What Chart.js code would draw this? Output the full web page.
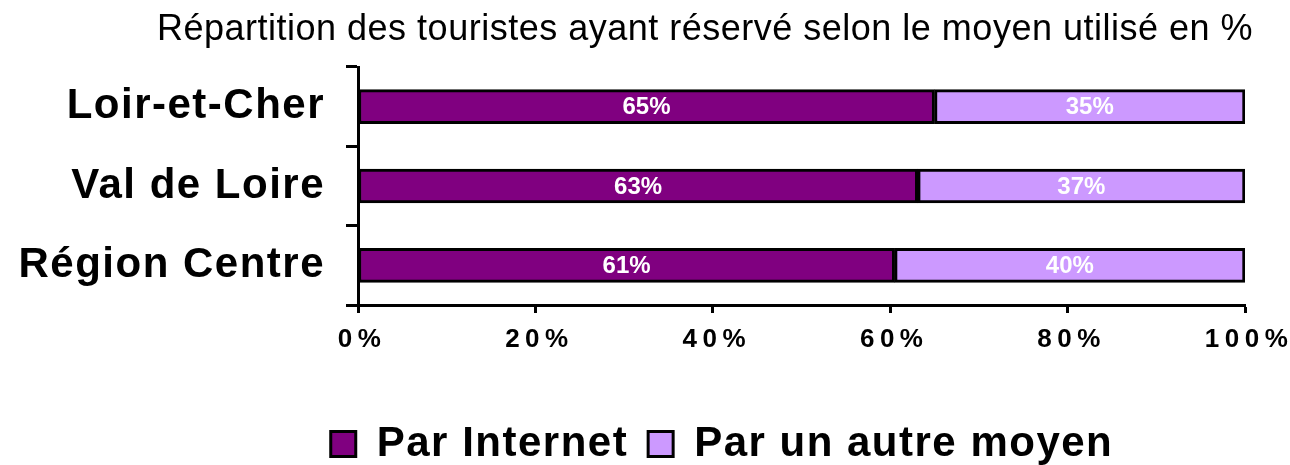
<!DOCTYPE html>
<html>
<head>
<meta charset="utf-8">
<script src="https://cdn.jsdelivr.net/npm/chart.js@4/dist/chart.umd.min.js"></script>
<style>
  body { margin: 0; background: #fff; }
  #wrap { width: 1290px; height: 465px; }
</style>
</head>
<body>
<div id="wrap"><canvas id="chart" width="1290" height="465"></canvas></div>
<script>
// Values (share of bookings, %)
const categories = ['Loir-et-Cher', 'Val de Loire', 'Région Centre'];
const seriesNames = ['Par Internet', 'Par un autre moyen'];
const internetShare = [65, 63.1, 60.5];
const otherShare = [35, 36.9, 39.5];
const xTickValues = [0, 20, 40, 60, 80, 100];

const FONT = '"Liberation Sans", Arial, sans-serif';

// Chart.js has no letter-spacing option, so wrap a few methods
// and set ctx.letterSpacing around them.
function addSpacing(obj, method, spacing) {
  if (!obj || !obj[method] || obj[method]._spaced) return;
  const orig = obj[method];
  const wrapped = function(...args) {
    const ctx = this.ctx;
    const prev = ctx.letterSpacing;
    ctx.letterSpacing = spacing;
    const res = orig.apply(this, args);
    ctx.letterSpacing = prev;
    return res;
  };
  wrapped._spaced = true;
  obj[method] = wrapped;
}

const spacingPlugin = {
  id: 'spacing',
  beforeLayout(chart) {
    addSpacing(chart.legend, 'fit', '1.5px');
    addSpacing(chart.legend, 'draw', '1.5px');
    addSpacing(chart.titleBlock, 'draw', '0.5px');
  },
  afterLayout(chart) {
    // title sits a bit left of the legend in the original, and it is
    // wider than the padded box (title text gets squeezed to maxWidth)
    const t = chart.titleBlock;
    const mid = (t.left + t.right) / 2 - 17;
    t.left = mid - 620;
    t.right = mid + 620;
  },
  beforeDraw(chart) {
    addSpacing(chart.scales.x, 'drawLabels', '5.5px');
    addSpacing(chart.scales.y, 'drawLabels', '1.5px');
    // category names are wider than the axis box, don't clip them
    chart.scales.y._computeLabelArea = () => undefined;
  }
};

// white percent labels in the middle of each segment
const valueLabels = {
  id: 'valueLabels',
  afterDatasetsDraw(chart) {
    const ctx = chart.ctx;
    ctx.save();
    ctx.font = 'bold 24px ' + FONT;
    ctx.fillStyle = '#ffffff';
    ctx.textAlign = 'center';
    ctx.textBaseline = 'middle';
    chart.data.datasets.forEach((ds, i) => {
      chart.getDatasetMeta(i).data.forEach((bar, j) => {
        const p = bar.getCenterPoint();
        ctx.fillText(Math.round(ds.data[j]) + '%', p.x, p.y + 1);
      });
    });
    ctx.restore();
  }
};

new Chart(document.getElementById('chart'), {
  type: 'bar',
  data: {
    labels: categories,
    datasets: [
      {
        label: seriesNames[0],
        data: internetShare,
        backgroundColor: '#800080',
        borderColor: '#000000',
        borderWidth: 3,
        borderSkipped: false,
        barThickness: 34
      },
      {
        label: seriesNames[1],
        data: otherShare,
        backgroundColor: '#CC99FF',
        borderColor: '#000000',
        borderWidth: 3,
        borderSkipped: false,
        barThickness: 34
      }
    ]
  },
  options: {
    indexAxis: 'y',
    responsive: false,
    devicePixelRatio: 1,
    animation: false,
    layout: { padding: { left: 187, right: 33, top: 0, bottom: -10 } },
    plugins: {
      title: {
        display: true,
        text: 'Répartition des touristes ayant réservé selon le moyen utilisé en %',
        color: '#000',
        font: { family: FONT, size: 36, weight: 'normal', lineHeight: 1.15 },
        padding: { top: 9, bottom: 16.6 }
      },
      legend: {
        position: 'bottom',
        labels: {
          color: '#000',
          font: { family: FONT, size: 42, weight: 'bold' },
          boxWidth: 25,
          boxHeight: 25,
          padding: 20
        }
      },
      tooltip: { enabled: false }
    },
    scales: {
      x: {
        stacked: true,
        min: 0,
        max: 100,
        afterBuildTicks(scale) {
          scale.ticks = xTickValues.map(v => ({ value: v }));
        },
        afterFit(scale) {
          scale.height = 98;
          scale.paddingRight = 45;
        },
        border: { display: true, color: '#000', width: 3 },
        grid: {
          drawOnChartArea: false,
          drawTicks: true,
          tickLength: 8,
          tickColor: '#000',
          tickWidth: 3
        },
        ticks: {
          color: '#000',
          font: { family: FONT, size: 26, weight: 'bold' },
          padding: 11,
          labelOffset: 4,
          maxRotation: 0,
          autoSkip: false,
          callback: v => v + '%'
        }
      },
      y: {
        stacked: true,
        afterFit(scale) {
          scale.width = 171;
        },
        border: { display: true, color: '#000', width: 3 },
        grid: {
          offset: true,
          drawOnChartArea: false,
          drawTicks: true,
          tickLength: 12,
          tickColor: '#000',
          tickWidth: 3
        },
        ticks: {
          color: '#000',
          font: { family: FONT, size: 42, weight: 'bold' },
          padding: 21
        }
      }
    }
  },
  plugins: [spacingPlugin, valueLabels]
});
</script>
</body>
</html>
